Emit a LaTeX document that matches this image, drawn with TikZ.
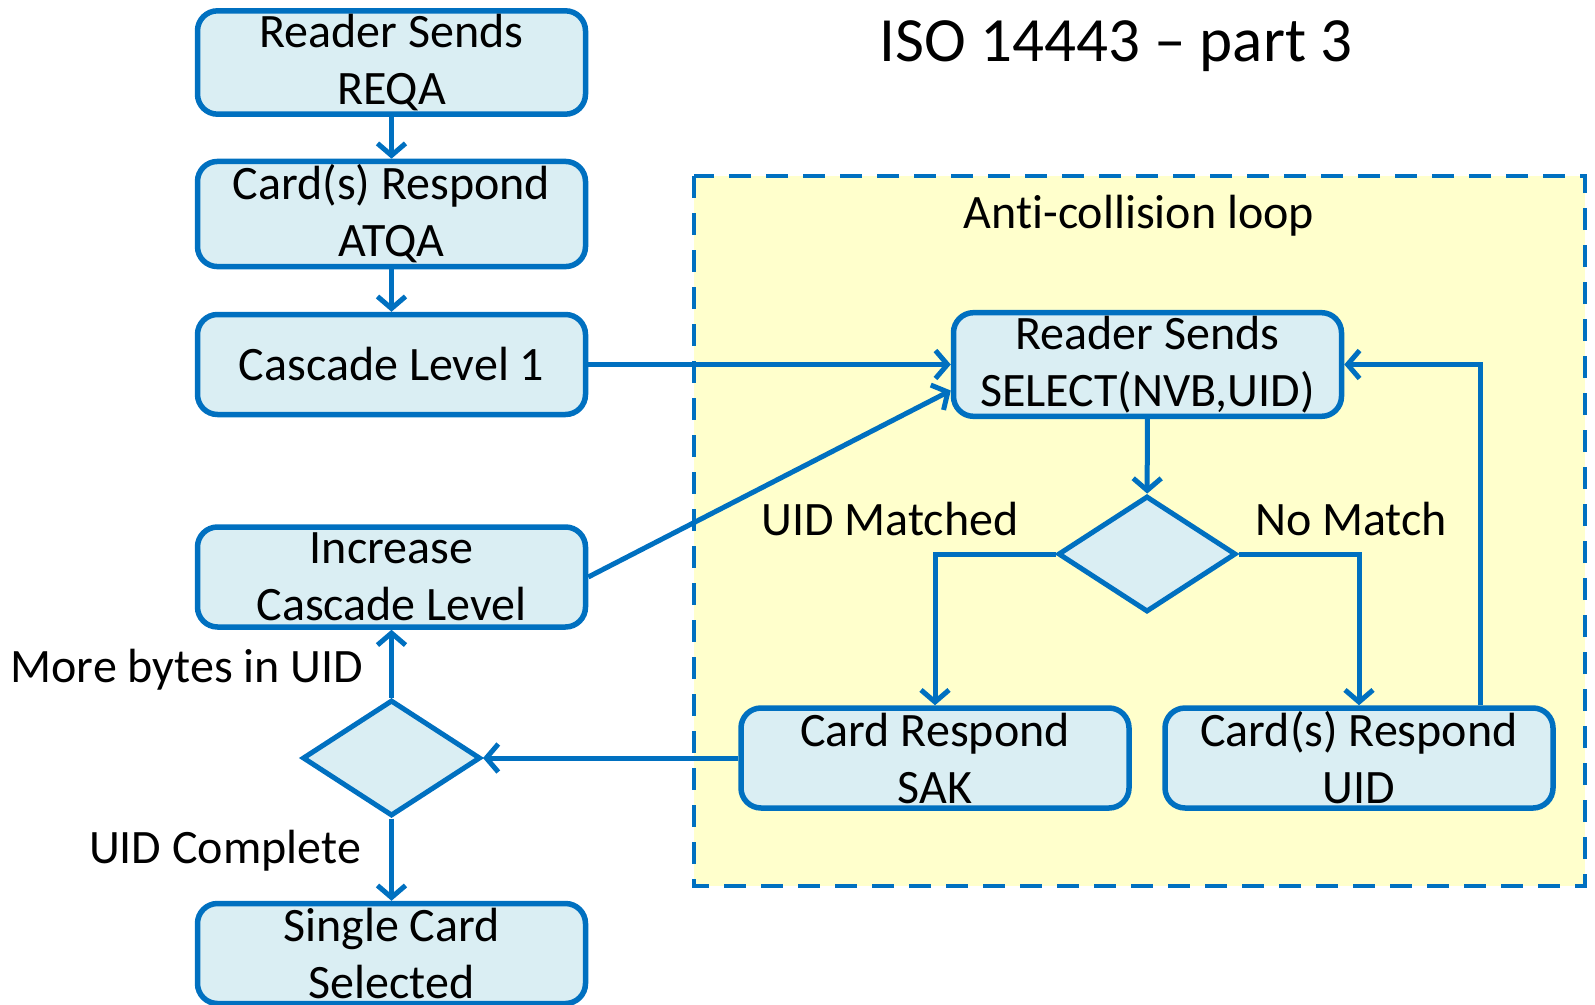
\documentclass[tikz,border=0pt]{standalone}
\usepackage{fontspec}
\setmainfont{Carlito}[Ligatures={TeX,NoCommon}]
\usetikzlibrary{arrows.meta,shapes.geometric}

\definecolor{lineblue}{HTML}{0070C0}
\definecolor{boxfill}{HTML}{DAEEF3}
\definecolor{loopfill}{HTML}{FFFFCC}

\begin{document}
\begin{tikzpicture}[x=1pt,y=-1pt,
  box/.style={draw=lineblue,line width=5.5pt,fill=boxfill,rounded corners=20pt,
    minimum width=388pt,minimum height=100pt,align=center,
    font=\fontsize{48}{57}\selectfont},
  choice/.style={draw=lineblue,line width=5pt,fill=boxfill,diamond,inner sep=0pt,
    minimum width=178pt,minimum height=116pt},
  lbl/.style={font=\fontsize{48}{57}\selectfont},
  arr/.style={draw=lineblue,line width=5pt,-{Straight Barb[length=12pt,width=28pt]}}]

\useasboundingbox (0,0) rectangle (1595,1004);

% anti-collision area
\draw [lineblue,fill=loopfill,line width=4.5pt,dash pattern=on 22pt off 15pt] (694,176) rectangle (1585,886);

\node (title) at (1116,46) {\fontsize{63}{70}\selectfont ISO 14443 \textendash{} part 3};
\node[lbl] (looplbl) at (1139,216) {Anti-collision loop};

% left column
\node[box] (req) at (391.5,62.5) {Reader Sends\\REQA};
\node[box] (atqa) at (391.5,214) {Card(s) Respond\\ATQA};
\node[box] (cl1) at (391.5,364.5) {Cascade Level 1};
\node[box] (inc) at (391.5,577) {Increase\\Cascade Level};
\node[choice] (done) at (391.5,758) {};
\node[box] (single) at (391.5,953.5) {Single Card\\Selected};

% loop
\node[box] (sel) at (1147.5,364.5) {Reader Sends\\SELECT(NVB,UID)};
\node[choice] (chk) at (1147,554) {};
\node[box] (sak) at (935,758) {Card Respond\\SAK};
\node[box] (uid) at (1359,758) {Card(s) Respond\\UID};
\coordinate (back) at (1480,364.5);

\node[lbl] (matched) at (890,519) {UID Matched};
\node[lbl] (nomatch) at (1351,519) {No Match};
\node[lbl] (more) at (187,670) {More bytes in UID};
\node[lbl] (complete) at (225,851) {UID Complete};

\draw[arr] (req) -- (atqa);
\draw[arr] (atqa) -- (cl1);
\draw[arr] (cl1) -- (sel);
\draw[arr] (inc.east) -- ([yshift=-26pt]sel.west);
\draw[arr] (sel) -- (chk);
\draw[arr] (chk.west) -| (sak.north);
\draw[arr] (chk.east) -| (uid.north);
\draw[arr] (uid.north -| back) -- (back) -- (sel.east);
\draw[arr] (sak.west) -- (done.east);
\draw[arr] (done.north) -- (inc.south);
\draw[arr] (done.south) -- (single.north);

\end{tikzpicture}
\end{document}
